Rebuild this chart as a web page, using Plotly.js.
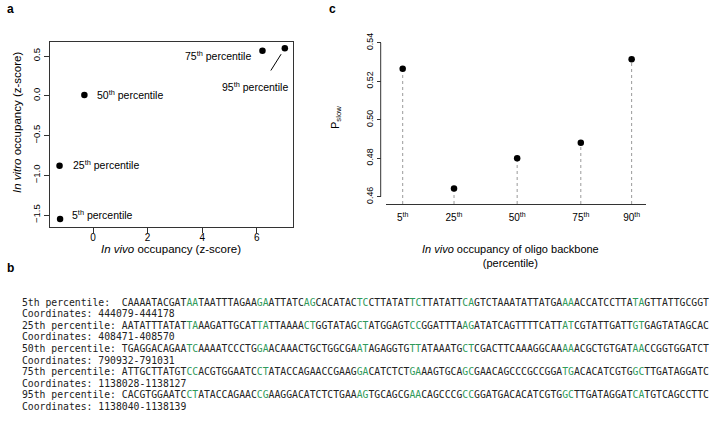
<!DOCTYPE html>
<html>
<head>
<meta charset="utf-8">
<script src="https://cdn.plot.ly/plotly-3.0.1.min.js"></script>
<style>html,body{margin:0;padding:0;background:#fff;}#chart{width:710px;height:426px;}</style>
</head>
<body>
<div id="chart"></div>
<script>
// ---------- Panel a data ----------
const aLabels = ["5", "25", "50", "75", "95"];
const aInVivo = [-1.21, -1.23, -0.32, 6.21, 7.03];
const aInVitro = [-1.55, -0.88, 0.01, 0.567, 0.597];
const aXTicks = [0, 2, 4, 6];
const aYTicks = [-1.5, -1.0, -0.5, 0.0, 0.5];

// ---------- Panel c data ----------
const cLabels = ["5", "25", "50", "75", "90"];
const cPositions = [1, 2, 3.23, 4.47, 5.46];
const cPslow = [0.5265, 0.4642, 0.4800, 0.4880, 0.5314];
const cYTicks = [0.46, 0.48, 0.50, 0.52, 0.54];

// ---------- Panel b data ----------
const bLabels = ["5th percentile:", "25th percentile:", "50th percentile:", "75th percentile:", "95th percentile:"];
const bSequences = [
  "CAAAATACGATAATAATTTAGAAGAATTATCAGCACATACTCCTTATATTCTTATATTCAGTCTAAATATTATGAAAACCATCCTTATAGTTATTGCGGT",
  "AATATTTATATTAAAGATTGCATTATTAAAACTGGTATAGCTATGGAGTCCGGATTTAAGATATCAGTTTTCATTATCGTATTGATTGTGAGTATAGCAC",
  "TGAGGACAGAATCAAAATCCCTGGAACAAACTGCTGGCGAATAGAGGTGTTATAAATGCTCGACTTCAAAGGCAAAAACGCTGTGATAACCGGTGGATCT",
  "ATTGCTTATGTCCACGTGGAATCCTATACCAGAACCGAAGGACATCTCTGAAAGTGCAGCGAACAGCCCGCCGGATGACACATCGTGGCTTGATAGGATC",
  "CACGTGGAATCCTATACCAGAACCGAAGGACATCTCTGAAAGTGCAGCGAACAGCCCGCCGGATGACACATCGTGGCTTGATAGGATCATGTCAGCCTTC"
];
const bHighlightStarts = [
  [11, 23, 31, 40, 49, 58, 75, 87],
  [11, 23, 31, 40, 49, 58, 75, 87],
  [11, 23, 40, 49, 58, 75, 87],
  [11, 23, 40, 49, 58, 75, 87],
  [11, 23, 40, 49, 58, 75, 87]
];
const bCoordinates = ["444079-444178", "408471-408570", "790932-791031", "1138028-1138127", "1138040-1138139"];

// ---------- build ----------
const W = 710, H = 426;
const px = x => x / W;
const py = y => 1 - y / H;
const sansFont = "Liberation Sans, Arial, Helvetica, sans-serif";
const monoFont = "DejaVu Sans Mono, Liberation Mono, monospace";
const green = "#2f9a5a";
const axisCol = "#333";

const traces = [];
traces.push({
  type: "scatter", mode: "markers", x: aInVivo, y: aInVitro, xaxis: "x", yaxis: "y",
  marker: {color: "#000", size: 6.5}, hoverinfo: "skip", showlegend: false
});

// panel c dotted stems
const cBase = 0.4562;
const stemX = [], stemY = [];
cPositions.forEach((p, i) => { stemX.push(p, p, null); stemY.push(cBase, cPslow[i], null); });
traces.push({
  type: "scatter", mode: "lines", x: stemX, y: stemY, xaxis: "x2", yaxis: "y2",
  line: {color: "#9a9a9a", width: 1, dash: "dot"}, hoverinfo: "skip", showlegend: false
});
traces.push({
  type: "scatter", mode: "markers", x: cPositions, y: cPslow, xaxis: "x2", yaxis: "y2",
  marker: {color: "#000", size: 6.5}, hoverinfo: "skip", showlegend: false
});

const annotations = [];
// panel letters
[["a", 10, 9], ["c", 332, 9], ["b", 10, 268]].forEach(([t, x, y]) => annotations.push({
  text: "<b>" + t + "</b>", xref: "paper", yref: "paper", x: px(x), y: py(y),
  xanchor: "center", yanchor: "middle", showarrow: false, font: {family: sansFont, size: 12, color: "#000"}
}));

// panel a point labels
const aLabelShift = [[10, 4.7, "left"], [11.5, 1.4, "left"], [10.5, 0, "left"], [-9.5, -5.3, "right"]];
aLabelShift.forEach(([dx, dy, anch], i) => annotations.push({
  text: aLabels[i] + "<sup>th</sup> percentile", xref: "x", yref: "y", x: aInVivo[i], y: aInVitro[i],
  xanchor: anch, yanchor: "middle", xshift: dx, yshift: dy, showarrow: false,
  font: {family: sansFont, size: 10.5, color: "#000"}
}));
// 95th label with leader line
annotations.push({
  text: " ", xref: "x", yref: "y", x: aInVivo[4], y: aInVitro[4], showarrow: true,
  arrowhead: 0, arrowwidth: 1, arrowcolor: "#000", ax: -17, ay: 27, standoff: 7
});
annotations.push({
  text: aLabels[4] + "<sup>th</sup> percentile", xref: "x", yref: "y", x: aInVivo[4], y: aInVitro[4],
  xanchor: "center", yanchor: "middle", xshift: -30, yshift: -38.7, showarrow: false,
  font: {family: sansFont, size: 10.5, color: "#000"}
});

// axis titles (panel a)
annotations.push({
  text: "<i>In vivo</i> occupancy (z-score)", xref: "paper", yref: "paper", x: px(171), y: py(249.5),
  xanchor: "center", yanchor: "middle", showarrow: false, font: {family: sansFont, size: 11.5, color: "#000"}
});
annotations.push({
  text: "<i>In vitro</i> occupancy (z-score)", xref: "paper", yref: "paper", x: px(17), y: py(123),
  xanchor: "center", yanchor: "middle", textangle: -90, showarrow: false, font: {family: sansFont, size: 11.5, color: "#000"}
});
// axis titles (panel c)
annotations.push({
  text: "<i>In vivo</i> occupancy of oligo backbone<br>(percentile)", xref: "paper", yref: "paper", x: px(510), y: py(256),
  xanchor: "center", yanchor: "middle", showarrow: false, font: {family: sansFont, size: 11, color: "#000"}
});
annotations.push({
  text: "P<sub>slow</sub>", xref: "paper", yref: "paper", x: px(336), y: py(118),
  xanchor: "center", yanchor: "middle", textangle: -90, showarrow: false, font: {family: sansFont, size: 11, color: "#000"}
});

// panel b text block
const nb = s => s.replace(/ /g, "\u00a0");
bSequences.forEach((seq, i) => {
  const hs = new Set();
  bHighlightStarts[i].forEach(s => { hs.add(s); hs.add(s + 1); });
  let html = "";
  for (let j = 0; j < seq.length; j++) {
    html += hs.has(j) ? '<span style="color:' + green + '">' + seq[j] + '</span>' : seq[j];
  }
  const label = nb(bLabels[i].padEnd(17, " "));
  const y1 = 302 + i * 23.2, y2 = y1 + 11.6;
  annotations.push({
    text: label + html, xref: "paper", yref: "paper", x: px(20), y: py(y1),
    xanchor: "left", yanchor: "middle", showarrow: false, font: {family: monoFont, size: 9.75, color: "#222"}
  });
  annotations.push({
    text: nb("Coordinates: " + bCoordinates[i]), xref: "paper", yref: "paper", x: px(20), y: py(y2),
    xanchor: "left", yanchor: "middle", showarrow: false, font: {family: monoFont, size: 9.75, color: "#222"}
  });
});

const cYAxisX = px(380.7);
const layout = {
  width: W, height: H, margin: {l: 0, r: 0, t: 0, b: 0},
  paper_bgcolor: "#fff", plot_bgcolor: "rgba(0,0,0,0)", showlegend: false,
  font: {family: sansFont, color: "#000"},
  xaxis: {
    domain: [px(50), px(293)], anchor: "y", range: [-1.58, 7.33],
    showline: true, mirror: true, linecolor: axisCol, linewidth: 1,
    ticks: "outside", ticklen: 5, tickcolor: axisCol, tickvals: aXTicks, ticklabelstandoff: -4,
    showgrid: false, zeroline: false, tickfont: {size: 10}
  },
  yaxis: {
    domain: [py(227), py(42)], anchor: "x", range: [-1.65, 0.676],
    showline: true, mirror: true, linecolor: axisCol, linewidth: 1,
    ticks: "outside", ticklen: 5, tickcolor: axisCol, tickvals: aYTicks, tickformat: ".1f",
    tickangle: -90, showgrid: false, zeroline: false, tickfont: {size: 9.5}
  },
  xaxis2: {
    domain: [px(385.7), px(646)], anchor: "y2", range: [0.669, 5.74],
    showline: true, linecolor: axisCol, linewidth: 1.2, ticks: "outside", ticklen: 4, tickcolor: "rgba(0,0,0,0)",
    tickvals: cPositions, ticktext: cLabels.map(l => l + "<sup>th</sup>"),
    showgrid: false, zeroline: false, tickfont: {size: 10}
  },
  yaxis2: {
    domain: [py(204), py(42)], anchor: "free", position: cYAxisX, range: [cBase, 0.5404],
    showline: false, ticks: "outside", ticklen: 4, tickcolor: axisCol, tickvals: cYTicks, tickformat: ".2f",
    tickangle: -90, showgrid: false, zeroline: false, tickfont: {size: 8.8}
  },
  shapes: [{
    type: "line", xref: "paper", yref: "y2", x0: cYAxisX, x1: cYAxisX,
    y0: cYTicks[0], y1: cYTicks[cYTicks.length - 1], line: {color: axisCol, width: 1}
  }],
  annotations: annotations
};

Plotly.newPlot("chart", traces, layout, {staticPlot: true, displayModeBar: false});
</script>
</body>
</html>
